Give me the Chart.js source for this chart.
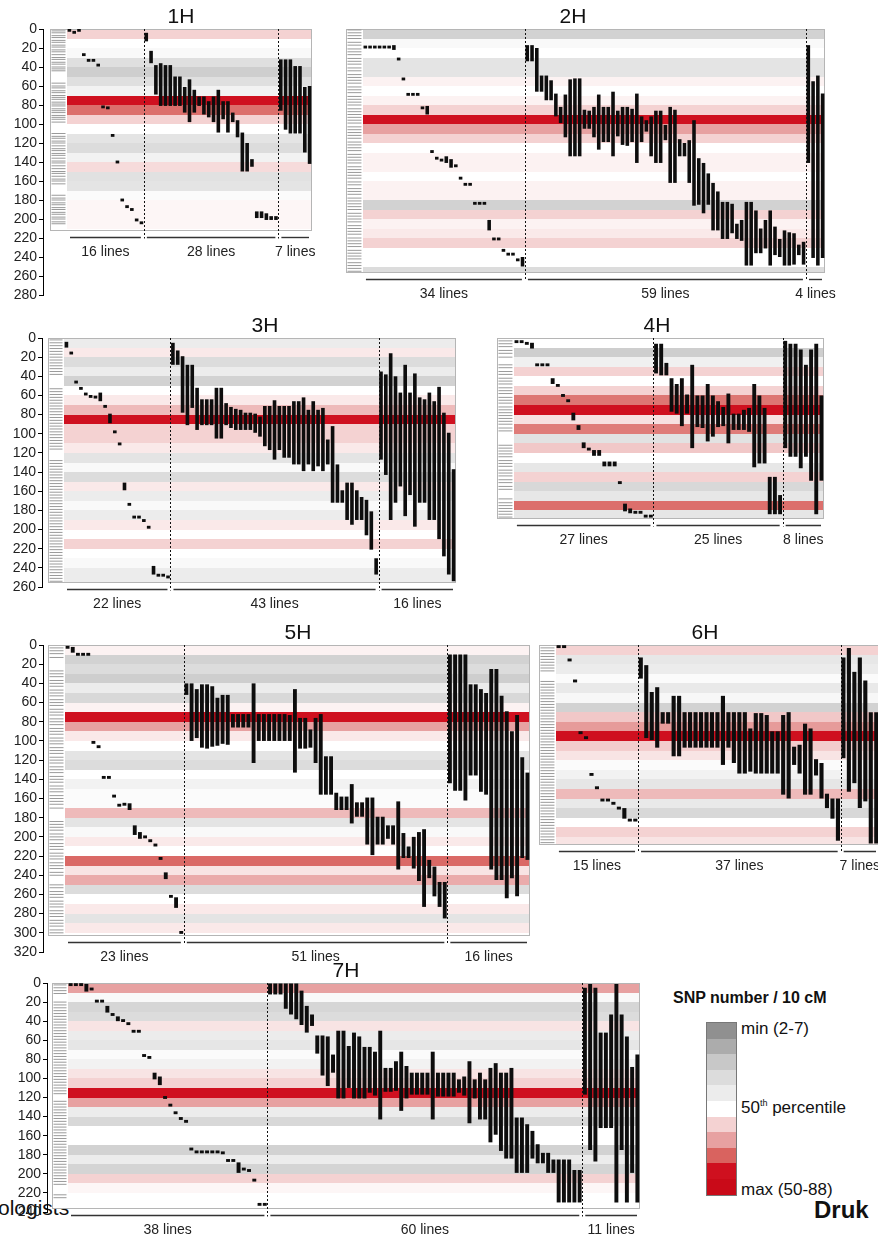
<!DOCTYPE html>
<html>
<head>
<meta charset="utf-8">
<title>Barley introgression lines – SNP density per chromosome</title>
<script src="https://cdn.jsdelivr.net/npm/chart.js@4.4.1/dist/chart.umd.min.js"></script>
<style>
  html, body { margin: 0; padding: 0; background: #fff; }
  body { position: relative; width: 878px; height: 1242px; overflow: hidden;
         font-family: 'Liberation Sans', Arial, Helvetica, sans-serif; color: #111; }
  canvas { position: absolute; }
  .txt { position: absolute; white-space: nowrap; line-height: 1; }
  #legend-title { left: 673px; top: 990px; font-weight: bold; font-size: 16px; }
  #legend-bar { position: absolute; left: 706px; top: 1022px; width: 29px; border: 1px solid #777; }
  #legend-bar div { height: 15.6px; }
  .leg-lab { font-size: 17px; left: 741px; }
  .leg-lab sup { font-size: 9px; vertical-align: 7px; }
  #cut-left { left: -2px; top: 1197px; font-size: 21px; }
  #cut-right { left: 814px; top: 1198px; font-size: 24px; font-weight: bold; }
</style>
</head>
<body>
<div class="txt" id="legend-title">SNP number / 10 cM</div>
<div id="legend-bar"></div>
<div class="txt leg-lab" style="top:1020px">min (2-7)</div>
<div class="txt leg-lab" style="top:1099px">50<sup>th</sup> percentile</div>
<div class="txt leg-lab" style="top:1181px">max (50-88)</div>
<div class="txt" id="cut-left">ologists</div>
<div class="txt" id="cut-right">Druk</div>

<script>
const FONT = "'Liberation Sans', Arial, Helvetica, sans-serif";

// SNP number per 10 cM, eleven classes: min (grey) -> 50th percentile (white) -> max (red)
const densityColors = ['#909090', '#acacac', '#c8c8c8', '#dcdcdc', '#ececec', '#ffffff',
                       '#f4d2d2', '#e7a1a1', '#d9635f', '#cf101f', '#c90a18'];

// ---------- 1H ----------
const length1H = 213;
const density1H = [6,5,4.7,3.2,2.3,3.2,4.3,9,7.8,6,5,3.5,3,4.3,5.8,3.3,3.5,4.8,5.2,5.2,5.2,5];
const markers1H = [2,4,7,9,12,14,17,19,22,24,27,30,32,35,37,40,42,44,57,60,62,65,67,70,72,74,77,79,81,84,86,88,91,93,95,98,110,113,115,118,120,123,126,128,131,133,136,139,141,144,147,150,152,155,158,160,163,175,178,180,183,185,188,190,193,195,198,200,203,205];
const groups1H = [16, 28, 7];
const lines1H = [
  1.4, 3.5, 1.4, 27, 33, 33, 38, 82, 83, 112, 140, 180, 187, 190, 201, 204,
  [4,13],[23,36],[38,69],[36,81],[38,81],[38,81],[50,81],[50,81],[61,88],[53,98],[64,88],[71,81],[71,90],[76,93],
  [71,98],[64,109],[76,95],[76,109],[88,98],[96,114],[109,150],[120,150],[137,145],[192,199],[192,199],[194,201],[197,201],[197,201],
  [32,86],[32,106],[32,110],[39,110],[39,110],[61,130],[60,142]
];

// ---------- 2H ----------
const length2H = 257;
const density2H = [2.5,4.7,5,3.5,3.5,5.3,5,5.3,6,9,7,6,5,5.3,5.3,5,5.3,5.3,2.5,6,5.3,5.5,6,5,5,3];
const markers2H = [1,4,7,10,14,17,21,24,27,31,34,37,41,44,48,51,54,57,61,64,67,71,74,77,80,84,87,90,93,96,99,103,106,109,112,115,119,122,125,128,132,135,138,141,145,148,151,154,157,161,164,168,171,174,178,181,184,187,190,194,197,200,203,207,210,213,216,220,223,226,229,233,236,239,242,246,249,252,255];
const groups2H = [34, 59, 4];
const lines2H = [
  19, 19, 19, 19, 19, 19, [17,22], 31.6, 52.6, 68.8, 68.8, 68.8, 83, [81,90], 129, 136, 138, [134,141], [137,146], 144,
  157, 163.5, 163.5, 183.5, 183.5, 183.5, [201,212], 221, 221, 233, 237, 237, 243, [240,250],
  [17,34],[17,34],[20,66],[49,66],[49,75],[54,75],[68,92],[82,99],[69,114],[53,134],
  [52,134],[52,134],[85,105],[86,105],[82,114],[69,127],[82,119],[82,119],[66,134],[86,113],
  [82,122],[82,123],[84,119],[68,141],[92,119],[96,108],[92,134],[86,141],[86,141],[101,117],
  [82,162],[85,162],[116,134],[120,134],[117,162],[96,186],[136,185],[141,194],[152,185],[162,212],
  [171,212],[182,221],[182,221],[184,215],[205,221],[201,223],[182,249],[182,249],[191,236],[210,236],
  [201,231],[191,249],[208,238],[221,240],[212,249],[214,249],[215,248],[227,238],[224,248],
  [17,141],[55,241],[49,249],[68,241]
];

// ---------- 3H ----------
const length3H = 256;
const density3H = [4,5.5,3,4,2.5,5,5.5,6.5,9,6,6,5.5,3.5,4.7,3,5.5,4,4.7,4,5.5,5,6,5,4.7,4,4];
const markers3H = [2,5,8,11,14,17,20,23,26,29,32,35,38,53,56,59,62,65,68,71,74,77,80,83,86,89,92,95,98,101,104,107,110,113,116,128,131,134,137,140,143,146,149,152,155,158,161,164,167,170,173,176,179,182,185,188,191,194,197,200,203,206,209,212,215,218,221,224,227,230,233,236,239,242,245,248,251,254];
const groups3H = [22, 43, 16];
const lines3H = [
  [4,10], 15.7, 46, 52.6, 58.5, 61, 61.7, [57,66], 71.4, [79,89], 98, 110.6, [151,159], 173.7, 187, 187, 190.6, 197.6,
  [238,247], 247.7, 247.7, 249.5,
  [5,28],[13,28],[19,78],[28,91],[28,73],[52,96],[64,91],[64,91],[64,91],[52,105],[52,105],[68,91],[72,94],[74,96],
  [75,96],[78,96],[78,96],[79,99],[82,103],[71,113],[71,117],[65,127],[71,117],[71,125],[71,125],[66,132],[66,132],
  [62,139],[75,132],[66,139],[75,134],[73,139],[106,132],[92,172],[132,172],[159,172],[151,190],[151,195],[159,190],
  [166,190],[169,206],[181,221],[230,247],
  [35,127],[38,143],[16,190],[40,172],[57,155],[28,186],[57,164],[37,197],[62,172],[64,172],[57,190],[66,190],
  [51,210],[78,228],[99,247],[137,254]
];

// ---------- 4H ----------
const length4H = 189;
const density4H = [5,2.3,4.2,6,5,6,7.7,9,5.7,7.6,3.4,6.2,5,3.7,6,2.8,3.7,7.8,3.6];
const markers4H = [3,6,9,13,16,20,28,31,35,38,42,45,48,52,55,58,62,65,68,72,75,78,81,84,87,90,94,97,112,115,118,121,124,128,131,134,138,141,144,148,151,155,158,168,172,175,178,181,184,187];
const groups4H = [27, 25, 8];
const lines4H = [
  3.8, 3.8, 5.6, [5,11], 28, 28, 28, [42,48], 49.5, 60, 65.5, [78,86], [91,96], [109,115], 116, [117,123], [117,123],
  [129,134], [129,134], [129,134], 151, [173,181], [178,183], 182, 182, 186, 186,
  [6,37],[6,39],[26,39],[42,77],[48,79],[42,92],[59,79],[28,115],[60,93],[60,94],[48,108],[60,103],[66,93],
  [72,92],[58,110],[79,96],[79,96],[75,96],[73,98],[48,135],[60,131],[73,131],[145,184],[145,184],[164,184],
  [3,115],[6,124],[6,124],[12,136],[28,124],[12,149],[6,184],[60,149]
];

// ---------- 5H ----------
const length5H = 303;
const density5H = [5.3,2.5,3,2.3,4,2.8,5.3,9,7,5.5,5,3.5,3,5,4.3,4.8,4.8,6.5,3.5,4.7,5.5,5,7.9,5.6,6.8,3,5,5.5,3.5,5.5,5];
const markers5H = [3,6,9,13,27,30,33,37,40,43,47,50,53,57,60,63,67,70,73,77,80,83,87,90,93,97,100,103,107,110,113,117,120,123,127,130,133,137,140,143,147,150,153,157,160,163,166,170,184,187,190,193,197,200,203,207,210,213,217,220,223,227,230,233,237,240,250,253,257,260,263,267,270,273,277,280,283,287,290,293,297,300];
const groups5H = [23, 51, 16];
const lines5H = [
  2.4, [2,8], 9.7, 9.7, 9.7, 101.5, 106, 138, 138, 157.5, 167, 166, [165,172], [188,198], [195,202], 200, 204, 208.5,
  222.5, [237,244], 262, [263,274], 299.6,
  [40,52],[40,100],[46,97],[41,107],[41,108],[43,106],[55,105],[52,103],[52,104],[72,86],[72,86],[72,86],[72,86],
  [40,123],[72,100],[72,100],[72,100],[72,100],[72,100],[72,100],[73,100],[46,133],[76,108],[76,108],[88,107],
  [76,123],[72,156],[116,156],[116,156],[154,172],[158,172],[158,172],[145,186],[164,179],[164,179],[159,208],
  [159,219],[179,208],[179,208],[188,202],[188,208],[163,234],[196,222],[210,222],[200,233],[195,246],[192,273],
  [224,243],[231,262],[247,273],[247,285],
  [10,144],[10,152],[10,152],[10,162],[41,136],[41,136],[46,153],[50,156],[25,234],[25,245],[53,245],[69,264],
  [90,243],[73,262],[117,222],[133,224]
];

// ---------- 6H ----------
const length6H = 208;
const density6H = [6,3.7,4,4.8,3.8,4.6,2.5,6.2,7.1,9,6.1,5.6,4.8,4.3,3.6,6.5,3.8,2.8,5,6,5.6];
const markers6H = [3,6,9,12,15,18,21,24,27,38,41,44,47,50,53,56,59,62,65,68,71,74,77,80,83,86,89,92,95,98,101,104,107,110,113,116,119,122,125,128,131,134,137,140,143,146,149,152,155,158,161,164,167,170,173,176,179,182,185,188,191,194,197,200,203,206];
const groups6H = [15, 37, 7];
const lines6H = [
  1.7, 1.7, 15.6, 37.5, 91.4, 96.6, 134.9, 148.8, 161.6, 161.6, 165, 170, [170,181], 182.5, 182.5,
  [13,35],[21,97],[49,99],[44,107],[70,82],[70,82],[53,116],[53,116],[70,107],[70,107],[70,107],[70,107],[70,107],
  [70,107],[70,107],[53,125],[70,107],[70,123],[70,134],[70,134],[87,132],[71,134],[71,134],[73,134],[90,134],
  [90,134],[73,156],[70,160],[106,125],[104,134],[82,156],[87,156],[119,136],[123,160],[155,170],[160,181],[160,204],
  [13,118],[3,153],[28,144],[13,170],[37,163],[70,207],[70,207]
];

// ---------- 7H ----------
const length7H = 237;
const density7H = [7,4.7,2.7,3,5.6,4,3.6,4.8,4.3,5.6,6,9,7,4,2.8,5,5,2.5,4,2.6,6,5.2,5,5];
const markers7H = [2,5,8,11,20,23,26,29,32,35,38,41,44,47,50,53,56,59,62,65,68,71,74,77,80,83,86,89,92,95,98,101,104,107,110,113,116,124,127,130,133,136,139,142,145,148,151,154,157,160,163,166,169,172,175,178,181,184,187,190,193,196,199,202,205,208,211,222,225];
const groups7H = [38, 60, 11];
const lines7H = [
  1.7, 1.7, 1.7, [1,9], 6.3, 19, 19, [24,31], 33, [35,40], 39.4, 42.6, 50.6, 50.6, 76, 78, [94,101], [98,107],
  120, 128, 136, 142, 145, 174, 177, 177, 177, 177, 177, 178, 186, 186, [188,199], 195, 196.5, 206.6, 232, 232,
  [0,12],[0,12],[0,12],[0,27],[0,33],[0,38],[8,44],[24,52],[33,45],[55,74],[55,97],[56,108],[75,94],[50,121],
  [50,121],[66,110],[52,121],[56,121],[67,121],[67,115],[72,118],[50,143],[89,114],[89,114],[82,113],[72,134],
  [87,121],[94,117],[94,117],[94,117],[94,117],[72,143],[94,119],[94,119],[94,119],[94,119],[101,115],[98,118],
  [82,147],[101,121],[94,143],[101,143],[89,167],[84,159],[94,176],[94,184],[89,184],[141,199],[141,199],[148,199],
  [155,184],[169,189],[178,189],[178,199],[185,199],[185,230],[185,230],[185,230],[196,230],[196,230],
  [5,117],[1,175],[5,187],[52,152],[52,152],[33,152],[1,230],[33,175],[56,230],[88,199],[75,230]
];

const chromosomes = [
  { name: '1H', length: length1H, density: density1H, markers: markers1H, groups: groups1H, lines: lines1H },
  { name: '2H', length: length2H, density: density2H, markers: markers2H, groups: groups2H, lines: lines2H },
  { name: '3H', length: length3H, density: density3H, markers: markers3H, groups: groups3H, lines: lines3H },
  { name: '4H', length: length4H, density: density4H, markers: markers4H, groups: groups4H, lines: lines4H },
  { name: '5H', length: length5H, density: density5H, markers: markers5H, groups: groups5H, lines: lines5H },
  { name: '6H', length: length6H, density: density6H, markers: markers6H, groups: groups6H, lines: lines6H },
  { name: '7H', length: length7H, density: density7H, markers: markers7H, groups: groups7H, lines: lines7H }
];

// Page placement of each panel (pixels): axis line, box edges, marker strip, cM scale
const placement = {
  '1H': { axis: true,  axisX: 43, boxLeft: 50,  stripEnd: 67,  right: 312, y0: 29,  k: 0.950, max: 280, titleX: 181 },
  '2H': { axis: false,            boxLeft: 344, stripEnd: 361, right: 825, y0: 29,  k: 0.950, max: 280, titleX: 573 },
  '3H': { axis: true,  axisX: 42, boxLeft: 48,  stripEnd: 64,  right: 456, y0: 338, k: 0.957, max: 260, titleX: 265 },
  '4H': { axis: false,            boxLeft: 495, stripEnd: 512, right: 824, y0: 338, k: 0.957, max: 260, titleX: 657 },
  '5H': { axis: true,  axisX: 43, boxLeft: 48,  stripEnd: 65,  right: 530, y0: 645, k: 0.959, max: 320, titleX: 298 },
  '6H': { axis: false,            boxLeft: 537, stripEnd: 554, right: 879, y0: 645, k: 0.959, max: 320, titleX: 705 },
  '7H': { axis: true,  axisX: 47, boxLeft: 52,  stripEnd: 68,  right: 640, y0: 983, k: 0.955, max: 240, titleX: 346 }
};

// Colour of a (possibly fractional) density class, blended between neighbouring classes
function hexRgb(h) {
  return [parseInt(h.slice(1, 3), 16), parseInt(h.slice(3, 5), 16), parseInt(h.slice(5, 7), 16)];
}
function densityColor(level) {
  const i = Math.min(Math.floor(level), densityColors.length - 1);
  const f = level - i;
  if (f <= 0 || i >= densityColors.length - 1) return densityColors[i];
  const a = hexRgb(densityColors[i]), b = hexRgb(densityColors[i + 1]);
  const c = a.map((v, j) => Math.round(v + (b[j] - v) * f));
  return `rgb(${c[0]},${c[1]},${c[2]})`;
}

// Colour key
const legendBar = document.getElementById('legend-bar');
densityColors.forEach(c => {
  const cell = document.createElement('div');
  cell.style.background = c;
  legendBar.appendChild(cell);
});

// Density bands, chromosome box, group dividers, brackets, counts and title
const chromPlugin = {
  id: 'chromosome',
  beforeDatasetsDraw(chart, _args, o) {
    const { ctx } = chart;
    const x = chart.scales.x, y = chart.scales.y;
    const s = o.spec;
    const xb = Math.round(x.getPixelForValue(o.boxVal));
    const xs = Math.round(x.getPixelForValue(-0.5));
    const xe = Math.round(x.getPixelForValue(o.n - 0.5));
    const yt = Math.round(y.getPixelForValue(0));
    const yb = Math.round(y.getPixelForValue(s.length));
    ctx.save();
    ctx.fillStyle = '#ffffff';
    ctx.fillRect(xb, yt, xe - xb, yb - yt);
    s.density.forEach((lvl, i) => {
      const t = Math.round(y.getPixelForValue(i * 10));
      const b = Math.round(y.getPixelForValue(Math.min(i * 10 + 10, s.length)));
      ctx.fillStyle = densityColor(lvl);
      ctx.fillRect(xs, t, xe - xs, b - t);
    });
    ctx.strokeStyle = '#b5b5b5';
    ctx.lineWidth = 1;
    ctx.strokeRect(xb + 0.5, yt + 0.5, xe - xb - 1, yb - yt - 1);
    ctx.restore();
  },
  afterDatasetsDraw(chart, _args, o) {
    const { ctx } = chart;
    const x = chart.scales.x, y = chart.scales.y;
    const s = o.spec;
    const yt = Math.round(y.getPixelForValue(0));
    const yb = Math.round(y.getPixelForValue(s.length));
    const bracketY = yb + 6.5;
    ctx.save();
    // dashed dividers between groups
    let acc = 0;
    ctx.strokeStyle = '#111';
    ctx.lineWidth = 1;
    ctx.setLineDash([2, 2]);
    s.groups.slice(0, -1).forEach(g => {
      acc += g;
      const px = Math.round(x.getPixelForValue(acc - 0.5)) + 0.5;
      ctx.beginPath();
      ctx.moveTo(px, yt);
      ctx.lineTo(px, bracketY + 1);
      ctx.stroke();
    });
    ctx.setLineDash([]);
    // brackets and counts
    acc = 0;
    ctx.font = '14px ' + FONT;
    ctx.fillStyle = '#222';
    ctx.textAlign = 'center';
    ctx.textBaseline = 'middle';
    s.groups.forEach(g => {
      const a = x.getPixelForValue(acc - 0.5) + 3;
      const b = x.getPixelForValue(acc + g - 0.5) - 3;
      ctx.strokeStyle = '#333';
      ctx.lineWidth = 1.4;
      ctx.beginPath();
      ctx.moveTo(a, bracketY);
      ctx.lineTo(b, bracketY);
      ctx.stroke();
      ctx.fillText(g + ' lines', (a + b) / 2, bracketY + 15);
      acc += g;
    });
    // chromosome name
    ctx.font = '21px ' + FONT;
    ctx.fillStyle = '#111';
    ctx.fillText(s.name, o.titleX - o.cx, yt - 12);
    ctx.restore();
  }
};

const PAD = 32, PAD_R = 30;

chromosomes.forEach(spec => {
  const p = placement[spec.name];
  const n = spec.groups.reduce((a, b) => a + b, 0);
  const chartLeft = p.axis ? p.axisX : p.boxLeft;
  const unit = (p.right - p.stripEnd) / n;
  const xMin = -0.5 - (p.stripEnd - chartLeft) / unit;
  const boxVal = -0.5 - (p.stripEnd - p.boxLeft) / unit;
  const stripMid = (boxVal - 0.5) / 2;
  const cx = p.axis ? 0 : p.boxLeft - 6;
  const cy = p.y0 - PAD;
  const cw = p.right + PAD_R - cx;
  const ch = Math.round(p.k * p.max) + 2 * PAD;

  const canvas = document.createElement('canvas');
  canvas.width = cw;
  canvas.height = ch;
  canvas.style.left = cx + 'px';
  canvas.style.top = cy + 'px';
  canvas.style.width = cw + 'px';
  canvas.style.height = ch + 'px';
  document.body.appendChild(canvas);

  const yScale = {
    type: 'linear', reverse: true, min: 0, max: p.max, display: p.axis,
    ticks: { stepSize: 20, autoSkip: false, color: '#222', font: { family: FONT, size: 14 }, padding: 2 },
    grid: { drawOnChartArea: false, drawTicks: true, tickLength: 4, color: '#000', lineWidth: 1 },
    border: { display: true, color: '#000', width: 1 }
  };
  if (p.axis) yScale.afterFit = scale => { scale.width = p.axisX; };

  new Chart(canvas, {
    type: 'bar',
    data: {
      datasets: [
        {
          type: 'bar',
          data: spec.lines.map((v, i) => ({ x: i, y: Array.isArray(v) ? v : [v - 1.5, v + 1.5] })),
          backgroundColor: '#0d0d0d',
          borderWidth: 0,
          categoryPercentage: 1,
          barPercentage: 0.75
        },
        {
          type: 'scatter',
          data: spec.markers.map(m => ({ x: stripMid, y: m })),
          showLine: false,
          pointStyle: 'line',
          pointRadius: (p.stripEnd - p.boxLeft) / 2 - 1.5,
          borderColor: '#9a9a9a',
          pointBorderColor: '#9a9a9a',
          pointBorderWidth: 1
        }
      ]
    },
    options: {
      responsive: false,
      animation: false,
      devicePixelRatio: 1,
      events: [],
      layout: { padding: { top: PAD, bottom: PAD, left: p.axis ? 0 : 6, right: PAD_R } },
      plugins: {
        legend: { display: false },
        tooltip: { enabled: false },
        title: { display: false },
        chromosome: { spec, n, boxVal, titleX: p.titleX, cx }
      },
      scales: {
        x: { type: 'linear', display: false, min: xMin, max: n - 0.5, offset: false, grid: { display: false } },
        y: yScale
      }
    },
    plugins: [chromPlugin]
  });
});
</script>
</body>
</html>
